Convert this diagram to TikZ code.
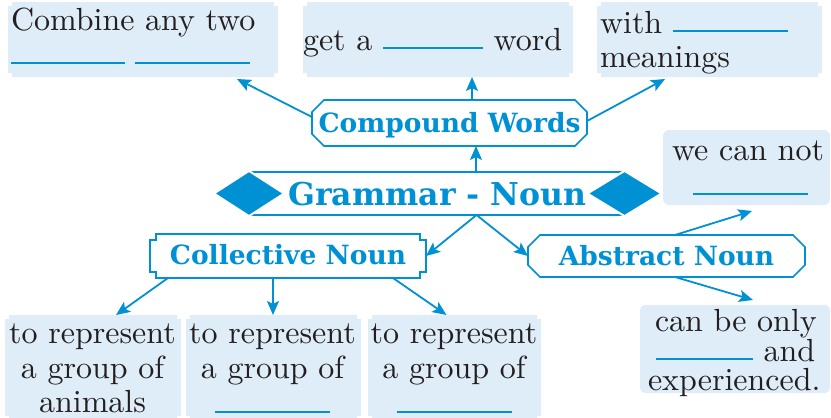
\documentclass[tikz,border=0pt]{standalone}
\usepackage{fontspec}
\newfontfamily\labfont{DejaVu Serif}
\newfontfamily\bodyfont{lmroman10-regular.otf}
\usetikzlibrary{arrows.meta,calc,backgrounds,shapes.misc,shapes.geometric}
\definecolor{nblue}{HTML}{0091D5}
\definecolor{nfill}{HTML}{DFEDF8}
\definecolor{ntext}{HTML}{231F20}
\newcommand\blank[1]{\textcolor{nblue}{\rule[1pt]{#1}{2.2pt}}}
% light box with small square notches at the corners
\newcommand\notchbox[3]{%
  \path[#3] ($(#1.north west)+(#2,0)$) -- ($(#1.north east)+(-#2,0)$) -- ($(#1.north east)+(-#2,#2)$) -- ($(#1.north east)+(0,#2)$)
   -- ($(#1.south east)+(0,-#2)$) -- ($(#1.south east)+(-#2,-#2)$) -- ($(#1.south east)+(-#2,0)$)
   -- ($(#1.south west)+(#2,0)$) -- ($(#1.south west)+(#2,-#2)$) -- ($(#1.south west)+(0,-#2)$)
   -- ($(#1.north west)+(0,#2)$) -- ($(#1.north west)+(#2,#2)$) -- cycle;}
\begin{document}
\begin{tikzpicture}[x=1pt,y=-1pt,
  area/.style={inner sep=0,outer sep=0,draw=none},
  body/.style={font=\bodyfont\fontsize{32}{35}\selectfont,text=ntext,inner sep=0,outer sep=0,anchor=base west},
  bodyc/.style={body,anchor=base},
  lab/.style={font=\labfont\bfseries\fontsize{26.5}{30}\selectfont,text=nblue,inner sep=0,outer sep=0,fill=white,line width=1.7pt},
  arr/.style={draw=nblue,line width=1.8pt,-{Stealth[length=14pt,width=12pt,inset=3pt]}}]
\useasboundingbox (0,0) rectangle (831,418);

% ---- light boxes (areas) ----
\node[area,minimum width=270,minimum height=75] (b1) at (143,39.5) {};
\node[area,minimum width=270,minimum height=75] (b2) at (438,39.5) {};
\node[area,minimum width=225,minimum height=75] (b3) at (709.5,39.5) {};
\node[area,minimum width=167,minimum height=75] (b4) at (746.5,167.5) {};
\node[area,minimum width=190,minimum height=88] (b5) at (735,349) {};
\node[area,minimum width=176,minimum height=105] (b6) at (93,367.5) {};
\node[area,minimum width=175,minimum height=105] (b7) at (273.5,367.5) {};
\node[area,minimum width=173,minimum height=105] (b8) at (454.5,367.5) {};
\notchbox{b1}{4}{fill=nfill}
\notchbox{b2}{4}{fill=nfill}
\notchbox{b3}{4}{fill=nfill}
\notchbox{b6}{4}{fill=nfill}
\notchbox{b7}{4}{fill=nfill}
\notchbox{b8}{4}{fill=nfill}
\fill[nfill,rounded corners=6pt] (b4.north west) rectangle (b4.south east);
\fill[nfill,rounded corners=5pt] (b5.north west) rectangle (b5.south east);

% ---- texts in light boxes ----
\node[body] (t1a) at (11,30) {Combine any two};
\node[body] (t1b) at (11,65) {\blank{114pt}\hspace{10pt}\blank{115pt}};
\node[body] (t2) at (303,50) {get a \blank{100pt} word};
\node[body] (t3a) at (600,33) {with \blank{115pt}};
\node[body] (t3b) at (600,67) {meanings};
\node[body] (t4a) at (672,160) {we can not};
\node[body] (t4b) at (693,196) {\blank{115pt}};
\node[body] (t5a) at (655,331) {can be only};
\node[body] (t5b) at (656,361) {\blank{97pt} and};
\node[body] (t5c) at (648,390) {experienced.};
\node[bodyc] (t6a) at (92.5,343) {to represent};
\node[bodyc] (t6b) at (92.5,378) {a group of};
\node[bodyc] (t6c) at (92.5,412) {animals};
\node[bodyc] (t7a) at (272.5,343) {to represent};
\node[bodyc] (t7b) at (272.5,378) {a group of};
\node[bodyc] (t7c) at (272.5,414) {\blank{115pt}};
\node[bodyc] (t8a) at (454,343) {to represent};
\node[bodyc] (t8b) at (454,378) {a group of};
\node[bodyc] (t8c) at (454,414) {\blank{115pt}};

% ---- labelled boxes ----
\node[lab,draw=nblue,chamfered rectangle,chamfered rectangle xsep=6pt,chamfered rectangle ysep=6pt,
  minimum width=275,minimum height=46,text height=22pt,text depth=4pt] (cw) at (449.5,123) {Compound Words};
\node[lab,draw=nblue,rectangle,minimum width=375,minimum height=43,text height=25pt,text depth=2pt,
  font=\labfont\bfseries\fontsize{31.5}{34}\selectfont] (gn) at (437.5,193.5) {Grammar - Noun};
\node[diamond,fill=nblue,draw=white,line width=2pt,minimum width=71,minimum height=46,inner sep=0] (dl) at (249,193.5) {};
\node[diamond,fill=nblue,draw=white,line width=2pt,minimum width=75,minimum height=46,inner sep=0] (dr) at (624.5,193.5) {};
\node[lab,rectangle,minimum width=276,minimum height=44,text height=20pt,text depth=4pt] (cn) at (288,256) {Collective Noun};
\notchbox{cn}{6}{draw=nblue,line width=1.7pt}
\node[lab,draw=nblue,chamfered rectangle,chamfered rectangle xsep=6pt,chamfered rectangle ysep=6pt,
  minimum width=277,minimum height=42,text height=21pt,text depth=3pt] (an) at (666.5,256) {Abstract Noun};

% ---- connectors ----
\coordinate (apex) at ([xshift=39pt]gn.south);
\draw[arr] ([xshift=38.5pt]gn.north) -- ([xshift=26.5pt]cw.south);
\draw[arr] ([xshift=22.5pt]cw.north) -- ([xshift=34pt]b2.south);
\draw[arr] ($(cw.west)+(0,-6)$) -- ($(b1.south east)+(-41,2)$);
\draw[arr] ($(cw.east)+(0,-2)$) -- ($(b3.south west)+(68,2)$);
\draw[arr] (apex) -- (cn.east);
\draw[arr] (apex) -- (an.west);
\draw[arr] ($(cn.south west)+(18,0)$) -- ($(b6.north)+(23,0)$);
\draw[arr] ($(cn.south)+(-15,0)$) -- ($(b7.north)+(-0.5,0)$);
\draw[arr] ($(cn.south east)+(-33,0)$) -- ($(b8.north)+(-8,0)$);
\draw[arr] ($(an.north)+(8.5,0)$) -- ($(b4.south)+(5.5,6)$);
\draw[arr] ($(an.south)+(8.5,0)$) -- ($(b5.north)+(18,-5)$);
\end{tikzpicture}
\end{document}
